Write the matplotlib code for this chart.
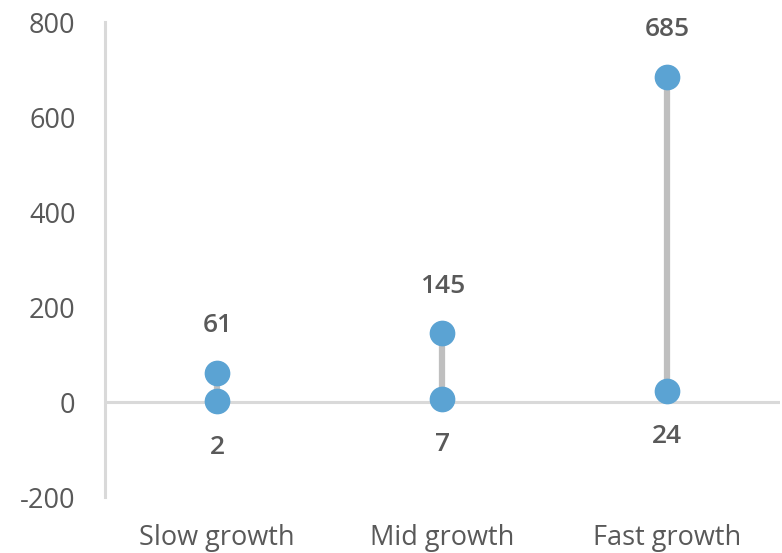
import numpy as np
import matplotlib
matplotlib.use("Agg")
import matplotlib.pyplot as plt

# Data
categories = ["Slow growth", "Mid growth", "Fast growth"]
low_vals = [2, 7, 24]
high_vals = [61, 145, 685]
yticks = [-200, 0, 200, 400, 600, 800]

plt.rcParams['font.family'] = ['Open Sans', 'DejaVu Sans']

fig = plt.figure(figsize=(7.82, 5.53), dpi=100)
ax = fig.add_axes([0.134, 0.101, 0.863, 0.859])

x = np.arange(len(categories))
blue = "#5BA3D3"
grey_line = "#BFBFBF"
axis_col = "#D9D9D9"
text_col = "#595959"

# connectors
ax.vlines(x, low_vals, high_vals, color=grey_line, lw=4.5, zorder=2)
ax.plot(x, low_vals, "o", color=blue, ms=17.5, zorder=3)
ax.plot(x, high_vals, "o", color=blue, ms=17.5, zorder=3)

# zero line
ax.axhline(0, color=axis_col, lw=2.2, zorder=1)

for xi, lo, hi in zip(x, low_vals, high_vals):
    ax.annotate(str(hi), (xi, hi), xytext=(0, 34), textcoords="offset points",
                ha="center", va="center", fontsize=19, fontweight="semibold", color=text_col)
    ax.annotate(str(lo), (xi, lo), xytext=(0, -33), textcoords="offset points",
                ha="center", va="center", fontsize=19, fontweight="semibold", color=text_col)

ax.set_xlim(-0.5, 2.5)
ax.set_ylim(-200, 800)
ax.set_yticks(yticks)
ax.set_yticklabels([str(t) for t in yticks])
ax.set_xticks(x)
ax.set_xticklabels(categories)
ax.tick_params(axis="both", length=0, labelsize=19.5, colors=text_col)
ax.tick_params(axis="y", pad=21)
ax.tick_params(axis="x", pad=19)

for s in ["top", "right", "bottom"]:
    ax.spines[s].set_visible(False)
ax.spines["left"].set_color(axis_col)
ax.spines["left"].set_linewidth(2.2)

fig.savefig("out.png", dpi=100)
